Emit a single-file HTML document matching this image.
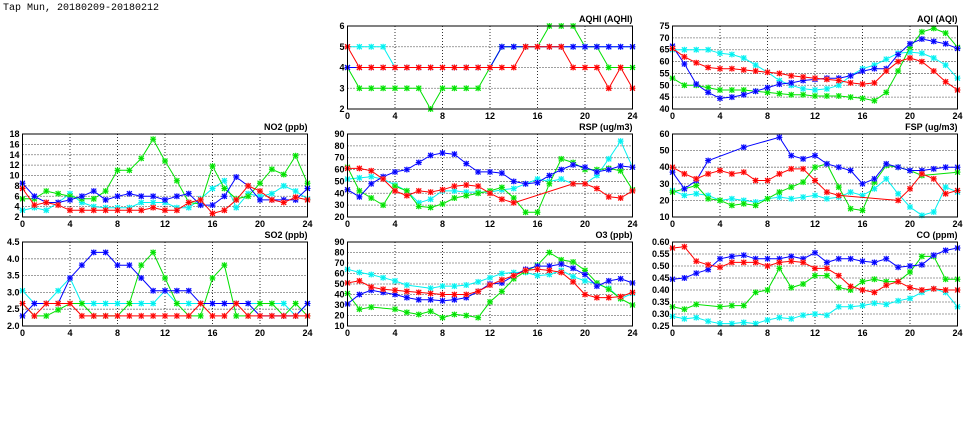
<!DOCTYPE html>
<html><head><meta charset="utf-8"><style>
html,body{margin:0;padding:0;background:#fff;}
svg{display:block;}
text{font-family:"Liberation Sans",sans-serif;font-size:9px;font-weight:bold;fill:#000;}
.t{text-anchor:end;}
.m{text-anchor:middle;}
</style></head><body>
<svg id="s" width="975" height="447" viewBox="0 0 975 447" xmlns="http://www.w3.org/2000/svg">
<text x="3" y="10" style="font-size:10px;font-weight:normal;font-family:'Liberation Mono',monospace">Tap Mun, 20180209-20180212</text>

<!-- AQHI -->
<g transform="translate(347.5,26)">
<text class="t" x="285" y="-4">AQHI (AQHI)</text>
<text class="t" x="-3" y="3">6</text><text class="t" x="-3" y="23.75">5</text><text class="t" x="-3" y="44.5">4</text><text class="t" x="-3" y="65.25">3</text><text class="t" x="-3" y="86">2</text>
<g class="xl"><text class="m" x="0" y="93">0</text><text class="m" x="47.5" y="93">4</text><text class="m" x="95" y="93">8</text><text class="m" x="142.5" y="93">12</text><text class="m" x="190" y="93">16</text><text class="m" x="237.5" y="93">20</text><text class="m" x="285" y="93">24</text></g>
</g>
<!-- AQI -->
<g transform="translate(672.5,26)">
<text class="t" x="285" y="-4">AQI (AQI)</text>
<text class="t" x="-3" y="3">75</text><text class="t" x="-3" y="14.86">70</text><text class="t" x="-3" y="26.71">65</text><text class="t" x="-3" y="38.57">60</text><text class="t" x="-3" y="50.43">55</text><text class="t" x="-3" y="62.29">50</text><text class="t" x="-3" y="74.14">45</text><text class="t" x="-3" y="86">40</text>
<text class="m" x="0" y="93">0</text><text class="m" x="47.5" y="93">4</text><text class="m" x="95" y="93">8</text><text class="m" x="142.5" y="93">12</text><text class="m" x="190" y="93">16</text><text class="m" x="237.5" y="93">20</text><text class="m" x="285" y="93">24</text>
</g>
<!-- NO2 -->
<g transform="translate(22.5,134)">
<text class="t" x="285" y="-4">NO2 (ppb)</text>
<text class="t" x="-3" y="3">18</text><text class="t" x="-3" y="13.375">16</text><text class="t" x="-3" y="23.75">14</text><text class="t" x="-3" y="34.125">12</text><text class="t" x="-3" y="44.5">10</text><text class="t" x="-3" y="54.875">8</text><text class="t" x="-3" y="65.25">6</text><text class="t" x="-3" y="75.625">4</text><text class="t" x="-3" y="86">2</text>
<text class="m" x="0" y="93">0</text><text class="m" x="47.5" y="93">4</text><text class="m" x="95" y="93">8</text><text class="m" x="142.5" y="93">12</text><text class="m" x="190" y="93">16</text><text class="m" x="237.5" y="93">20</text><text class="m" x="285" y="93">24</text>
</g>
<!-- RSP -->
<g transform="translate(347.5,134)">
<text class="t" x="285" y="-4">RSP (ug/m3)</text>
<text class="t" x="-3" y="3">90</text><text class="t" x="-3" y="14.86">80</text><text class="t" x="-3" y="26.71">70</text><text class="t" x="-3" y="38.57">60</text><text class="t" x="-3" y="50.43">50</text><text class="t" x="-3" y="62.29">40</text><text class="t" x="-3" y="74.14">30</text><text class="t" x="-3" y="86">20</text>
<text class="m" x="0" y="93">0</text><text class="m" x="47.5" y="93">4</text><text class="m" x="95" y="93">8</text><text class="m" x="142.5" y="93">12</text><text class="m" x="190" y="93">16</text><text class="m" x="237.5" y="93">20</text><text class="m" x="285" y="93">24</text>
</g>
<!-- FSP -->
<g transform="translate(672.5,134)">
<text class="t" x="285" y="-4">FSP (ug/m3)</text>
<text class="t" x="-3" y="3">60</text><text class="t" x="-3" y="19.6">50</text><text class="t" x="-3" y="36.2">40</text><text class="t" x="-3" y="52.8">30</text><text class="t" x="-3" y="69.4">20</text><text class="t" x="-3" y="86">10</text>
<text class="m" x="0" y="93">0</text><text class="m" x="47.5" y="93">4</text><text class="m" x="95" y="93">8</text><text class="m" x="142.5" y="93">12</text><text class="m" x="190" y="93">16</text><text class="m" x="237.5" y="93">20</text><text class="m" x="285" y="93">24</text>
</g>
<!-- SO2 -->
<g transform="translate(22.5,242)">
<text class="t" x="285" y="-4">SO2 (ppb)</text>
<text class="t" x="-3" y="3">4.5</text><text class="t" x="-3" y="19.8">4.0</text><text class="t" x="-3" y="36.6">3.5</text><text class="t" x="-3" y="53.4">3.0</text><text class="t" x="-3" y="70.2">2.5</text><text class="t" x="-3" y="87">2.0</text>
<text class="m" x="0" y="94">0</text><text class="m" x="47.5" y="94">4</text><text class="m" x="95" y="94">8</text><text class="m" x="142.5" y="94">12</text><text class="m" x="190" y="94">16</text><text class="m" x="237.5" y="94">20</text><text class="m" x="285" y="94">24</text>
</g>
<!-- O3 -->
<g transform="translate(347.5,242)">
<text class="t" x="285" y="-4">O3 (ppb)</text>
<text class="t" x="-3" y="3">90</text><text class="t" x="-3" y="13.5">80</text><text class="t" x="-3" y="24">70</text><text class="t" x="-3" y="34.5">60</text><text class="t" x="-3" y="45">50</text><text class="t" x="-3" y="55.5">40</text><text class="t" x="-3" y="66">30</text><text class="t" x="-3" y="76.5">20</text><text class="t" x="-3" y="87">10</text>
<text class="m" x="0" y="94">0</text><text class="m" x="47.5" y="94">4</text><text class="m" x="95" y="94">8</text><text class="m" x="142.5" y="94">12</text><text class="m" x="190" y="94">16</text><text class="m" x="237.5" y="94">20</text><text class="m" x="285" y="94">24</text>
</g>
<!-- CO -->
<g transform="translate(672.5,242)">
<text class="t" x="285" y="-4">CO (ppm)</text>
<text class="t" x="-3" y="3">0.60</text><text class="t" x="-3" y="15">0.55</text><text class="t" x="-3" y="27">0.50</text><text class="t" x="-3" y="39">0.45</text><text class="t" x="-3" y="51">0.40</text><text class="t" x="-3" y="63">0.35</text><text class="t" x="-3" y="75">0.30</text><text class="t" x="-3" y="87">0.25</text>
<text class="m" x="0" y="94">0</text><text class="m" x="47.5" y="94">4</text><text class="m" x="95" y="94">8</text><text class="m" x="142.5" y="94">12</text><text class="m" x="190" y="94">16</text><text class="m" x="237.5" y="94">20</text><text class="m" x="285" y="94">24</text>
</g>
</svg>
<script>
var NS="http://www.w3.org/2000/svg",S=document.getElementById("s");
function el(n,a){var e=document.createElementNS(NS,n);for(var k in a)e.setAttribute(k,a[k]);S.appendChild(e);return e;}
var C={c:"#00f0f0",g:"#00e000",b:"#0000ff",r:"#ff0000"};
var L={c:"#a0ffff",g:"#a0ffa0",b:"#a0a0ff",r:"#ffa0a0"};
var _=null;
function panel(x0,y0,H,mn,mx,st,ser){
  var W=285;
  for(var v=mn+st;v<mx-st*0.01;v+=st){var y=y0+H-(v-mn)/(mx-mn)*H;el("line",{x1:x0,x2:x0+W,y1:y,y2:y,stroke:"#000","stroke-width":0.8,"stroke-dasharray":"1,2"});}
  for(var h=4;h<24;h+=4){var x=x0+h*W/24;el("line",{x1:x,x2:x,y1:y0,y2:y0+H,stroke:"#000","stroke-width":0.8,"stroke-dasharray":"1,2"});}
  ["c","g","b","r"].forEach(function(k){
    var d=ser[k];if(!d)return;var pts=[];
    d.forEach(function(v,i){if(v===null)return;pts.push([x0+i*W/24,y0+H-(v-mn)/(mx-mn)*H]);});
    el("polyline",{points:pts.map(function(p){return p[0].toFixed(1)+","+p[1].toFixed(1)}).join(" "),fill:"none",stroke:C[k],"stroke-width":1});
    pts.forEach(function(p){
      el("rect",{x:p[0]-2.5,y:p[1]-2.5,width:5,height:5,fill:L[k]});
      el("path",{d:"M"+(p[0]-2.5)+","+(p[1]-2.5)+"l5,5m0,-5l-5,5M"+(p[0]-3)+","+p[1]+"h6M"+p[0]+","+(p[1]-3)+"v6",stroke:C[k],"stroke-width":1,fill:"none"});
    });
  });
  el("rect",{x:x0,y:y0,width:W,height:H,fill:"none",stroke:"#000","stroke-width":1});
}
panel(347.5,26,83,2,6,1,{
 c:[5,5,5,5,4,4,4,4,4,4,4,4,4,5,5,5,5,5,5,5,5,5,5,5,5],
 g:[4,3,3,3,3,3,3,2,3,3,3,3,4,5,5,5,5,6,6,6,5,5,4,4,4],
 b:[4,4,4,4,4,4,4,4,4,4,4,4,4,5,5,5,5,5,5,5,5,5,5,5,5],
 r:[5,4,4,4,4,4,4,4,4,4,4,4,4,4,4,5,5,5,5,4,4,4,3,4,3]});
panel(672.5,26,83,40,75,5,{
 c:[65,65,65,65,63.5,63,61.5,58.5,55.5,52,50,48.5,48,48.5,50,54,57,58.5,61,63.5,64,63.5,61.5,58.5,53],
 g:[53,50,50,49,48,48,48,47.5,47,46.5,46,46,45.5,45.5,45.5,45,44.5,43.5,47,56,66,72.5,74,72,66],
 b:[66.5,59,50.5,47,44.5,45,46,47.5,49,50.5,51,52,52.5,53,53,54,56,57,57,63,67.5,69.5,68.5,67.5,65.5],
 r:[65.5,62,59.5,57.5,57,57,56.5,56,55.5,55,54,53.5,53,52.5,52,51,50.5,51,56,60,61.5,60,56,51.5,48]});
panel(22.5,134,83,2,18,2,{
 c:[3.3,3.8,3.3,4.8,6.5,4.8,4,3.8,3.8,3.8,4.8,4.8,4.8,3.8,3.8,5.5,7.5,9,3.8,6.5,6,6.5,8,7,5.5],
 g:[5.5,5.5,7,6.5,6,5.5,5.5,7,11,11,13.3,17,12.8,9,4.8,4.5,11.8,7.5,5.5,6,8.5,11.2,10.2,13.8,8.5],
 b:[8.5,6,4.8,4.8,5.3,6,7,5.3,6,6.5,6,6,5.3,6,6.5,4.3,4.3,6,9.7,8,5.3,5.3,5.3,5.3,7.5],
 r:[7.5,4.3,4.8,4.3,3.3,3.3,3.3,3.3,3.3,3.3,3.3,3.8,3.3,3.3,4.8,5.3,2.7,3.3,5.3,8,7,5.3,4.8,5.8,5.3]});
panel(347.5,134,83,20,90,10,{
 c:[52,53,54,52,47,42,32,35,42,42,41,41,41,43,44,48,52,50,52,48,48,55,69,84,62],
 g:[62,42,36,30,46,42,29,28,31,36,38,40,42,45,36,24,24,48,69,66,60,60,61,59,43],
 b:[43,37,48,54,58,60,66,72,74,73,65,58,58,57,50,48,49,55,60,64,62,58,60,63,62],
 r:[61,61,59,52,42,38,42,41,43,46,47,46,40,35,32,_,_,_,_,48,48,44,37,36,42]});
panel(672.5,134,83,10,60,10,{
 c:[26,23,24,23,20,21,20,19,21,22,21,22,23,21,22,25,23,27,33,24,16,11,13,28,25],
 g:[25,27,29,21,20,17,18,17,21,25,28,31,40,42,28,15,14,31,41,40,38,35,_,_,37],
 b:[37,27,32,44,_,_,52,_,_,58,47,45,47,42,40,38,30,33,42,40,38,38,39,40,40],
 r:[40,36,33,36,38,36,37,32,32,36,39,39,32,25,23,_,_,_,_,20,27,36,33,24,26]});
panel(22.5,242,84,2,4.5,0.5,{
 c:[3.05,2.67,2.67,3.05,3.43,2.67,2.67,2.67,2.67,2.67,2.67,2.67,3.05,2.67,2.67,2.67,2.67,2.67,2.67,2.67,2.67,2.67,2.67,2.3,2.67],
 g:[2.67,2.3,2.3,2.48,2.67,2.67,2.3,2.3,2.3,2.67,3.81,4.19,3.43,2.67,2.3,2.3,3.43,3.81,2.3,2.3,2.67,2.67,2.3,2.67,2.3],
 b:[2.3,2.67,2.67,2.67,3.43,3.81,4.19,4.19,3.81,3.81,3.43,3.05,3.05,3.05,3.05,2.67,2.67,2.67,2.67,2.67,2.3,2.3,2.3,2.3,2.67],
 r:[2.67,2.3,2.67,2.67,2.67,2.3,2.3,2.3,2.3,2.3,2.3,2.3,2.3,2.3,2.3,2.67,2.3,2.3,2.67,2.3,2.3,2.3,2.3,2.3,2.3]});
panel(347.5,242,84,10,90,10,{
 c:[64,61,59,56,53,49,_,46,48,48,49,52,56,60,61,61,58,59,63,57,53,50,46,36,41],
 g:[41,26,28,_,26,23,21,24,18,21,20,18,33,43,55,62,68,80,73,71,63,51,45,36,30],
 b:[31,40,44,42,40,37,35,35,34,35,37,43,50,51,58,64,67,67,69,65,59,48,53,55,51],
 r:[51,53,47,45,44,43,42,41,40,40,40,43,49,54,58,63,64,63,61,52,40,37,37,38,42]});
panel(672.5,242,84,0.25,0.60,0.05,{
 c:[.29,.28,.285,.27,.26,.26,.265,.26,.275,.285,.28,.295,.30,.295,.33,.33,.335,.345,.34,.355,.365,.39,.405,.39,.33],
 g:[.33,.32,.34,_,.33,.335,.335,.39,.40,.49,.41,.425,.46,.46,.41,.40,.435,.445,.435,.435,.475,.54,.54,.445,.445],
 b:[.445,.45,.47,.485,.53,.54,.545,.53,.53,.53,.54,.53,.555,.515,.53,.53,.52,.515,.53,.495,.50,.505,.545,.565,.575],
 r:[.575,.58,.52,.505,.495,.515,.515,.515,.50,.515,.52,.515,.49,.49,.46,.415,.40,.39,.42,.435,.41,.40,.405,.40,.40]});
</script>
</body></html>
